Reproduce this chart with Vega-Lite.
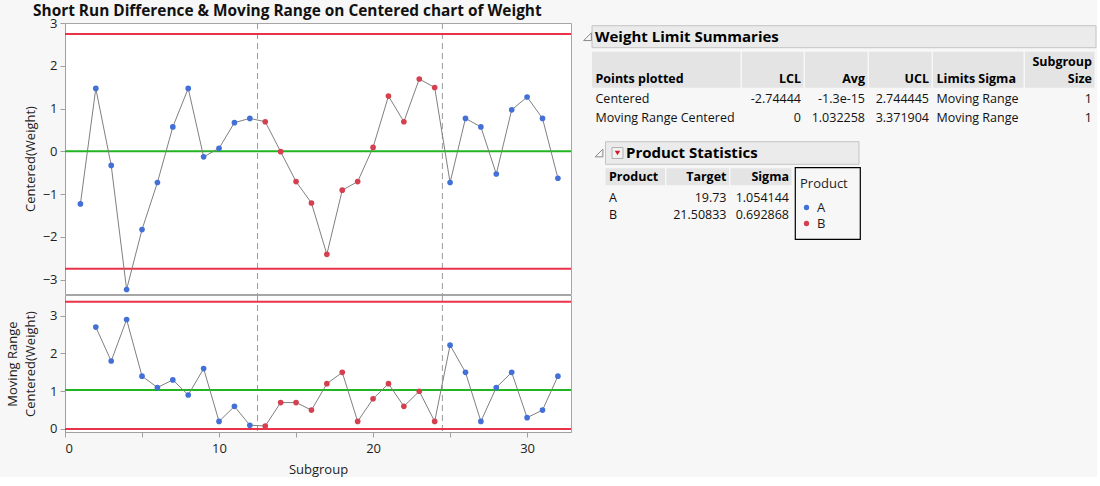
{
  "$schema": "https://vega.github.io/schema/vega-lite/v6.json",
  "background": "#f7f7f7",
  "padding": {"left": 6, "top": 3, "right": 0, "bottom": 0},
  "title": {"text": "Short Run Difference & Moving Range on Centered chart of Weight", "anchor": "start", "fontSize": 15.4, "fontWeight": "bold", "font": "Open Sans", "color": "#111", "dx": 27, "offset": -2.5},
  "config": {
    "font": "Open Sans",
    "view": {"fill": "white", "stroke": "#a6a6a6"},
    "axis": {"grid": false, "domainColor": "#a0a0a0", "tickColor": "#a0a0a0", "labelFontSize": 13, "titleFontSize": 13, "titleFontWeight": "normal", "labelColor": "#1e1e1e", "titleColor": "#1e1e1e", "labelFont": "Open Sans", "titleFont": "Open Sans", "tickSize": 5, "labelPadding": 3}
  },
  "datasets": {
    "pts": [
      {"subgroup": 1, "product": "A", "centered": -1.23, "mr": null},
      {"subgroup": 2, "product": "A", "centered": 1.47, "mr": 2.7},
      {"subgroup": 3, "product": "A", "centered": -0.33, "mr": 1.8},
      {"subgroup": 4, "product": "A", "centered": -3.23, "mr": 2.9},
      {"subgroup": 5, "product": "A", "centered": -1.83, "mr": 1.4},
      {"subgroup": 6, "product": "A", "centered": -0.73, "mr": 1.1},
      {"subgroup": 7, "product": "A", "centered": 0.57, "mr": 1.3},
      {"subgroup": 8, "product": "A", "centered": 1.47, "mr": 0.9},
      {"subgroup": 9, "product": "A", "centered": -0.13, "mr": 1.6},
      {"subgroup": 10, "product": "A", "centered": 0.07, "mr": 0.2},
      {"subgroup": 11, "product": "A", "centered": 0.67, "mr": 0.6},
      {"subgroup": 12, "product": "A", "centered": 0.77, "mr": 0.1},
      {"subgroup": 13, "product": "B", "centered": 0.69167, "mr": 0.07833},
      {"subgroup": 14, "product": "B", "centered": -0.00833, "mr": 0.7},
      {"subgroup": 15, "product": "B", "centered": -0.70833, "mr": 0.7},
      {"subgroup": 16, "product": "B", "centered": -1.20833, "mr": 0.5},
      {"subgroup": 17, "product": "B", "centered": -2.40833, "mr": 1.2},
      {"subgroup": 18, "product": "B", "centered": -0.90833, "mr": 1.5},
      {"subgroup": 19, "product": "B", "centered": -0.70833, "mr": 0.2},
      {"subgroup": 20, "product": "B", "centered": 0.09167, "mr": 0.8},
      {"subgroup": 21, "product": "B", "centered": 1.29167, "mr": 1.2},
      {"subgroup": 22, "product": "B", "centered": 0.69167, "mr": 0.6},
      {"subgroup": 23, "product": "B", "centered": 1.69167, "mr": 1.0},
      {"subgroup": 24, "product": "B", "centered": 1.49167, "mr": 0.2},
      {"subgroup": 25, "product": "A", "centered": -0.73, "mr": 2.22167},
      {"subgroup": 26, "product": "A", "centered": 0.77, "mr": 1.5},
      {"subgroup": 27, "product": "A", "centered": 0.57, "mr": 0.2},
      {"subgroup": 28, "product": "A", "centered": -0.53, "mr": 1.1},
      {"subgroup": 29, "product": "A", "centered": 0.97, "mr": 1.5},
      {"subgroup": 30, "product": "A", "centered": 1.27, "mr": 0.3},
      {"subgroup": 31, "product": "A", "centered": 0.77, "mr": 0.5},
      {"subgroup": 32, "product": "A", "centered": -0.63, "mr": 1.4}
    ],
    "limits": [
      {"chart": "Centered", "LCL": -2.74444, "Avg": -1.3e-15, "UCL": 2.744445},
      {"chart": "Moving Range Centered", "LCL": 0, "Avg": 1.032258, "UCL": 3.371904}
    ],
    "changes": [{"change": 12.5}, {"change": 24.5}],
    "cells": [
      {"text": "Weight Limit Summaries", "role": "title", "num": false, "c0": 0, "c1": 6, "r": 0.5},
      {"text": "Points plotted", "role": "header", "num": false, "c0": 0, "c1": 1, "r": 3},
      {"text": "LCL", "role": "header", "num": true, "c0": 1, "c1": 2, "r": 3},
      {"text": "Avg", "role": "header", "num": true, "c0": 2, "c1": 3, "r": 3},
      {"text": "UCL", "role": "header", "num": true, "c0": 3, "c1": 4, "r": 3},
      {"text": "Limits Sigma", "role": "header", "num": false, "c0": 4, "c1": 5, "r": 3},
      {"text": "Subgroup\nSize", "role": "header", "num": true, "c0": 5, "c1": 6, "r": 2.53},
      {"text": "Centered", "role": "body", "num": false, "c0": 0, "c1": 1, "r": 4.5},
      {"text": "-2.74444", "role": "body", "num": true, "c0": 1, "c1": 2, "r": 4.5},
      {"text": "-1.3e-15", "role": "body", "num": true, "c0": 2, "c1": 3, "r": 4.5},
      {"text": "2.744445", "role": "body", "num": true, "c0": 3, "c1": 4, "r": 4.5},
      {"text": "Moving Range", "role": "body", "num": false, "c0": 4, "c1": 5, "r": 4.5},
      {"text": "1", "role": "body", "num": true, "c0": 5, "c1": 6, "r": 4.5},
      {"text": "Moving Range Centered", "role": "body", "num": false, "c0": 0, "c1": 1, "r": 5.5},
      {"text": "0", "role": "body", "num": true, "c0": 1, "c1": 2, "r": 5.5},
      {"text": "1.032258", "role": "body", "num": true, "c0": 2, "c1": 3, "r": 5.5},
      {"text": "3.371904", "role": "body", "num": true, "c0": 3, "c1": 4, "r": 5.5},
      {"text": "Moving Range", "role": "body", "num": false, "c0": 4, "c1": 5, "r": 5.5},
      {"text": "1", "role": "body", "num": true, "c0": 5, "c1": 6, "r": 5.5},
      {"text": "Product Statistics", "role": "title", "num": false, "c0": 17, "c1": 11, "r": 7.5},
      {"text": "Product", "role": "header", "num": false, "c0": 7, "c1": 8, "r": 10},
      {"text": "Target", "role": "header", "num": true, "c0": 8, "c1": 9, "r": 10},
      {"text": "Sigma", "role": "header", "num": true, "c0": 9, "c1": 10, "r": 10},
      {"text": "A", "role": "body", "num": false, "c0": 7, "c1": 8, "r": 11.5},
      {"text": "19.73", "role": "body", "num": true, "c0": 8, "c1": 9, "r": 11.5},
      {"text": "1.054144", "role": "body", "num": true, "c0": 9, "c1": 10, "r": 11.5},
      {"text": "B", "role": "body", "num": false, "c0": 7, "c1": 8, "r": 12.5},
      {"text": "21.50833", "role": "body", "num": true, "c0": 8, "c1": 9, "r": 12.5},
      {"text": "0.692868", "role": "body", "num": true, "c0": 9, "c1": 10, "r": 12.5}
    ],
    "boxes": [
      {"role": "titlebar", "c0": 0, "c1": 6, "r0": 0, "r1": 1},
      {"role": "titlebar", "c0": 7, "c1": 11, "r0": 7, "r1": 8},
      {"role": "headercell", "c0": 0, "c1": 1, "r0": 2, "r1": 3},
      {"role": "headercell", "c0": 1, "c1": 2, "r0": 2, "r1": 3},
      {"role": "headercell", "c0": 2, "c1": 3, "r0": 2, "r1": 3},
      {"role": "headercell", "c0": 3, "c1": 4, "r0": 2, "r1": 3},
      {"role": "headercell", "c0": 4, "c1": 5, "r0": 2, "r1": 3},
      {"role": "headercell", "c0": 5, "c1": 6, "r0": 2, "r1": 3},
      {"role": "headercell", "c0": 7, "c1": 8, "r0": 9, "r1": 10},
      {"role": "headercell", "c0": 8, "c1": 9, "r0": 9, "r1": 10},
      {"role": "headercell", "c0": 9, "c1": 10, "r0": 9, "r1": 10},
      {"role": "legendbox", "c0": 15, "c1": 16, "r0": 14, "r1": 15}
    ],
    "icons": [
      {"icon": "disclosure", "c": 13, "r": 0.5},
      {"icon": "disclosure", "c": 14, "r": 7.5},
      {"icon": "menu", "c": 12, "r": 7.5}
    ]
  },
  "resolve": {"scale": {"x": "independent", "y": "independent", "color": "shared"}},
  "spacing": 8,
  "hconcat": [
    {
      "vconcat": [
        {
          "width": 506,
          "height": 271,
          "layer": [
            {
              "data": {"name": "changes"},
              "mark": {"type": "rule", "color": "#9a9a9a", "strokeWidth": 1, "strokeDash": [6, 4]},
              "encoding": {"x": {"field": "change", "type": "quantitative", "scale": {"domain": [0, 32.85], "nice": false, "zero": false}, "axis": null}}
            },
            {
              "data": {"name": "limits"},
              "transform": [{"filter": "datum.chart === 'Centered'"}, {"fold": ["LCL", "UCL"], "as": ["limit", "value"]}],
              "mark": {"type": "rule", "color": "#e8334a", "strokeWidth": 2},
              "encoding": {"y": {"field": "value", "type": "quantitative", "scale": {"domain": [-3.336, 3.0], "nice": false, "zero": false}, "axis": {"values": [-3, -2, -1, 0, 1, 2, 3], "title": "Centered(Weight)", "titlePadding": 5}}}
            },
            {
              "data": {"name": "limits"},
              "transform": [{"filter": "datum.chart === 'Centered'"}],
              "mark": {"type": "rule", "color": "#22b522", "strokeWidth": 2},
              "encoding": {"y": {"field": "Avg", "type": "quantitative", "scale": {"domain": [-3.336, 3.0], "nice": false, "zero": false}, "axis": {"values": [-3, -2, -1, 0, 1, 2, 3], "title": "Centered(Weight)", "titlePadding": 5}}}
            },
            {
              "data": {"name": "pts"},
              "mark": {"type": "line", "color": "#808080", "strokeWidth": 1},
              "encoding": {
                "x": {"field": "subgroup", "type": "quantitative", "scale": {"domain": [0, 32.85], "nice": false, "zero": false}, "axis": null},
                "y": {"field": "centered", "type": "quantitative", "scale": {"domain": [-3.336, 3.0], "nice": false, "zero": false}, "axis": {"values": [-3, -2, -1, 0, 1, 2, 3], "title": "Centered(Weight)", "titlePadding": 5}}
              }
            },
            {
              "data": {"name": "pts"},
              "mark": {"type": "point", "filled": true, "opacity": 1, "size": 32},
              "encoding": {
                "x": {"field": "subgroup", "type": "quantitative", "scale": {"domain": [0, 32.85], "nice": false, "zero": false}, "axis": null},
                "y": {"field": "centered", "type": "quantitative", "scale": {"domain": [-3.336, 3.0], "nice": false, "zero": false}, "axis": {"values": [-3, -2, -1, 0, 1, 2, 3], "title": "Centered(Weight)", "titlePadding": 5}},
                "color": {"field": "product", "type": "nominal", "scale": {"domain": ["A", "B"], "range": ["#4270d6", "#d4404f"]}, "legend": {"orient": "none", "legendX": 735, "legendY": 155, "title": "Product", "titleFontWeight": "normal", "titleFontSize": 13, "titleColor": "#1e1e1e", "labelFontSize": 13, "labelColor": "#1e1e1e", "symbolSize": 28, "symbolType": "circle", "padding": 0, "titlePadding": 10, "rowPadding": 2, "labelOffset": 4}}
              }
            }
          ]
        },
        {
          "width": 506,
          "height": 137,
          "layer": [
            {
              "data": {"name": "changes"},
              "mark": {"type": "rule", "color": "#9a9a9a", "strokeWidth": 1, "strokeDash": [6, 4]},
              "encoding": {"x": {"field": "change", "type": "quantitative", "scale": {"domain": [0, 32.85], "nice": false, "zero": false}, "axis": {"values": [0, 5, 10, 15, 20, 25, 30], "labelExpr": "datum.value % 10 === 0 ? datum.label : ''", "title": "Subgroup", "titlePadding": 8, "labelPadding": 5, "encode": {"ticks": {"update": {"y2": {"signal": "datum.value % 10 === 0 ? 6 : 3"}}}}}}}
            },
            {
              "data": {"name": "limits"},
              "transform": [{"filter": "datum.chart === 'Moving Range Centered'"}, {"fold": ["LCL", "UCL"], "as": ["limit", "value"]}],
              "mark": {"type": "rule", "color": "#e8334a", "strokeWidth": 2},
              "encoding": {"y": {"field": "value", "type": "quantitative", "scale": {"domain": [-0.08, 3.55], "nice": false, "zero": false}, "axis": {"values": [0, 1, 2, 3], "title": ["Moving Range", "Centered(Weight)"], "titlePadding": 12, "titleLineHeight": 18}}}
            },
            {
              "data": {"name": "limits"},
              "transform": [{"filter": "datum.chart === 'Moving Range Centered'"}],
              "mark": {"type": "rule", "color": "#22b522", "strokeWidth": 2},
              "encoding": {"y": {"field": "Avg", "type": "quantitative", "scale": {"domain": [-0.08, 3.55], "nice": false, "zero": false}, "axis": {"values": [0, 1, 2, 3], "title": ["Moving Range", "Centered(Weight)"], "titlePadding": 12, "titleLineHeight": 18}}}
            },
            {
              "data": {"name": "pts"},
              "transform": [{"filter": "isValid(datum.mr)"}],
              "mark": {"type": "line", "color": "#808080", "strokeWidth": 1},
              "encoding": {
                "x": {"field": "subgroup", "type": "quantitative", "scale": {"domain": [0, 32.85], "nice": false, "zero": false}, "axis": {"values": [0, 5, 10, 15, 20, 25, 30], "labelExpr": "datum.value % 10 === 0 ? datum.label : ''", "title": "Subgroup", "titlePadding": 8, "labelPadding": 5, "encode": {"ticks": {"update": {"y2": {"signal": "datum.value % 10 === 0 ? 6 : 3"}}}}}},
                "y": {"field": "mr", "type": "quantitative", "scale": {"domain": [-0.08, 3.55], "nice": false, "zero": false}, "axis": {"values": [0, 1, 2, 3], "title": ["Moving Range", "Centered(Weight)"], "titlePadding": 12, "titleLineHeight": 18}}
              }
            },
            {
              "data": {"name": "pts"},
              "transform": [{"filter": "isValid(datum.mr)"}],
              "mark": {"type": "point", "filled": true, "opacity": 1, "size": 32},
              "encoding": {
                "x": {"field": "subgroup", "type": "quantitative", "scale": {"domain": [0, 32.85], "nice": false, "zero": false}, "axis": {"values": [0, 5, 10, 15, 20, 25, 30], "labelExpr": "datum.value % 10 === 0 ? datum.label : ''", "title": "Subgroup", "titlePadding": 8, "labelPadding": 5, "encode": {"ticks": {"update": {"y2": {"signal": "datum.value % 10 === 0 ? 6 : 3"}}}}}},
                "y": {"field": "mr", "type": "quantitative", "scale": {"domain": [-0.08, 3.55], "nice": false, "zero": false}, "axis": {"values": [0, 1, 2, 3], "title": ["Moving Range", "Centered(Weight)"], "titlePadding": 12, "titleLineHeight": 18}},
                "color": {"field": "product", "type": "nominal", "scale": {"domain": ["A", "B"], "range": ["#4270d6", "#d4404f"]}}
              }
            }
          ]
        }
      ],
      "spacing": -3,
      "resolve": {"scale": {"x": "independent", "y": "independent"}}
    },
    {
      "width": 510,
      "height": 410,
      "view": {"fill": null, "stroke": null},
      "layer": [
        {
          "data": {"name": "boxes"},
          "transform": [{"filter": "datum.role === 'titlebar'"}],
          "mark": {"type": "rect", "fill": "#ebebeb", "stroke": "#c4c4c4", "strokeWidth": 1},
          "encoding": {
            "x": {"field": "c0", "type": "quantitative", "scale": {"domain": [0, 1, 2, 3, 4, 5, 6, 7, 8, 9, 10, 11, 12, 13, 14, 15, 16, 17], "range": [5, 155, 218, 282, 346, 438, 509, 18.5, 79.5, 143.5, 206, 272, 30.5, 0.5, 12, 208.3, 273.3, 36], "zero": false, "nice": false}, "axis": null},
            "x2": {"field": "c1"},
            "y": {"field": "r0", "type": "quantitative", "scale": {"domain": [0, 1, 2, 3, 4, 5, 6, 7, 8, 9, 10, 11, 12, 13, 14, 15], "range": [2.7, 24.7, 28.7, 64.7, 66.2, 85.2, 104.2, 118.7, 141.3, 145.3, 162.3, 166, 183.3, 200.6, 144.7, 216.3], "zero": false, "nice": false}, "axis": null},
            "y2": {"field": "r1"}
          }
        },
        {
          "data": {"name": "boxes"},
          "transform": [{"filter": "datum.role === 'headercell'"}],
          "mark": {"type": "rect", "fill": "#e4e4e4", "x2Offset": -1.5},
          "encoding": {
            "x": {"field": "c0", "type": "quantitative"},
            "x2": {"field": "c1"},
            "y": {"field": "r0", "type": "quantitative"},
            "y2": {"field": "r1"}
          }
        },
        {
          "data": {"name": "boxes"},
          "transform": [{"filter": "datum.role === 'legendbox'"}],
          "mark": {"type": "rect", "fill": null, "stroke": "#000", "strokeWidth": 1.2},
          "encoding": {
            "x": {"field": "c0", "type": "quantitative"},
            "x2": {"field": "c1"},
            "y": {"field": "r0", "type": "quantitative"},
            "y2": {"field": "r1"}
          }
        },
        {
          "data": {"name": "icons"},
          "transform": [{"filter": "datum.icon === 'disclosure'"}],
          "mark": {"type": "point", "shape": "M 1 -1 L 1 1 L -1 1 Z", "size": 60, "filled": false, "stroke": "#8a8a8a", "strokeWidth": 1, "opacity": 1},
          "encoding": {
            "x": {"field": "c", "type": "quantitative"},
            "y": {"field": "r", "type": "quantitative"}
          }
        },
        {
          "data": {"name": "icons"},
          "transform": [{"filter": "datum.icon === 'menu'"}],
          "mark": {"type": "point", "shape": "square", "size": 120, "filled": true, "fill": "#f3f3f3", "stroke": "#b0b0b0", "strokeWidth": 1, "opacity": 1},
          "encoding": {
            "x": {"field": "c", "type": "quantitative"},
            "y": {"field": "r", "type": "quantitative"}
          }
        },
        {
          "data": {"name": "icons"},
          "transform": [{"filter": "datum.icon === 'menu'"}],
          "mark": {"type": "point", "shape": "triangle-down", "size": 30, "filled": true, "color": "#d01f2a", "opacity": 1},
          "encoding": {
            "x": {"field": "c", "type": "quantitative"},
            "y": {"field": "r", "type": "quantitative"}
          }
        },
        {
          "data": {"name": "cells"},
          "transform": [{"filter": "datum.role === 'title'"}],
          "mark": {"type": "text", "align": "left", "baseline": "middle", "dx": 3, "fontSize": 15, "fontWeight": "bold", "color": "#000"},
          "encoding": {
            "x": {"field": "c0", "type": "quantitative"},
            "y": {"field": "r", "type": "quantitative"},
            "text": {"field": "text"}
          }
        },
        {
          "data": {"name": "cells"},
          "transform": [{"filter": "datum.role === 'header' && !datum.num"}],
          "mark": {"type": "text", "align": "left", "baseline": "bottom", "dx": 3.5, "dy": -1.5, "fontSize": 12.5, "fontWeight": "bold", "color": "#000", "lineBreak": "\n", "lineHeight": 17},
          "encoding": {
            "x": {"field": "c0", "type": "quantitative"},
            "y": {"field": "r", "type": "quantitative"},
            "text": {"field": "text"}
          }
        },
        {
          "data": {"name": "cells"},
          "transform": [{"filter": "datum.role === 'header' && datum.num"}],
          "mark": {"type": "text", "align": "right", "baseline": "bottom", "dx": -4, "dy": -1.5, "fontSize": 12.5, "fontWeight": "bold", "color": "#000", "lineBreak": "\n", "lineHeight": 17},
          "encoding": {
            "x": {"field": "c1", "type": "quantitative"},
            "y": {"field": "r", "type": "quantitative"},
            "text": {"field": "text"}
          }
        },
        {
          "data": {"name": "cells"},
          "transform": [{"filter": "datum.role === 'body' && !datum.num"}],
          "mark": {"type": "text", "align": "left", "baseline": "middle", "dx": 3.5, "fontSize": 12.5, "color": "#111"},
          "encoding": {
            "x": {"field": "c0", "type": "quantitative"},
            "y": {"field": "r", "type": "quantitative"},
            "text": {"field": "text"}
          }
        },
        {
          "data": {"name": "cells"},
          "transform": [{"filter": "datum.role === 'body' && datum.num"}],
          "mark": {"type": "text", "align": "right", "baseline": "middle", "dx": -4, "fontSize": 12.5, "color": "#111"},
          "encoding": {
            "x": {"field": "c1", "type": "quantitative"},
            "y": {"field": "r", "type": "quantitative"},
            "text": {"field": "text"}
          }
        }
      ]
    }
  ]
}
